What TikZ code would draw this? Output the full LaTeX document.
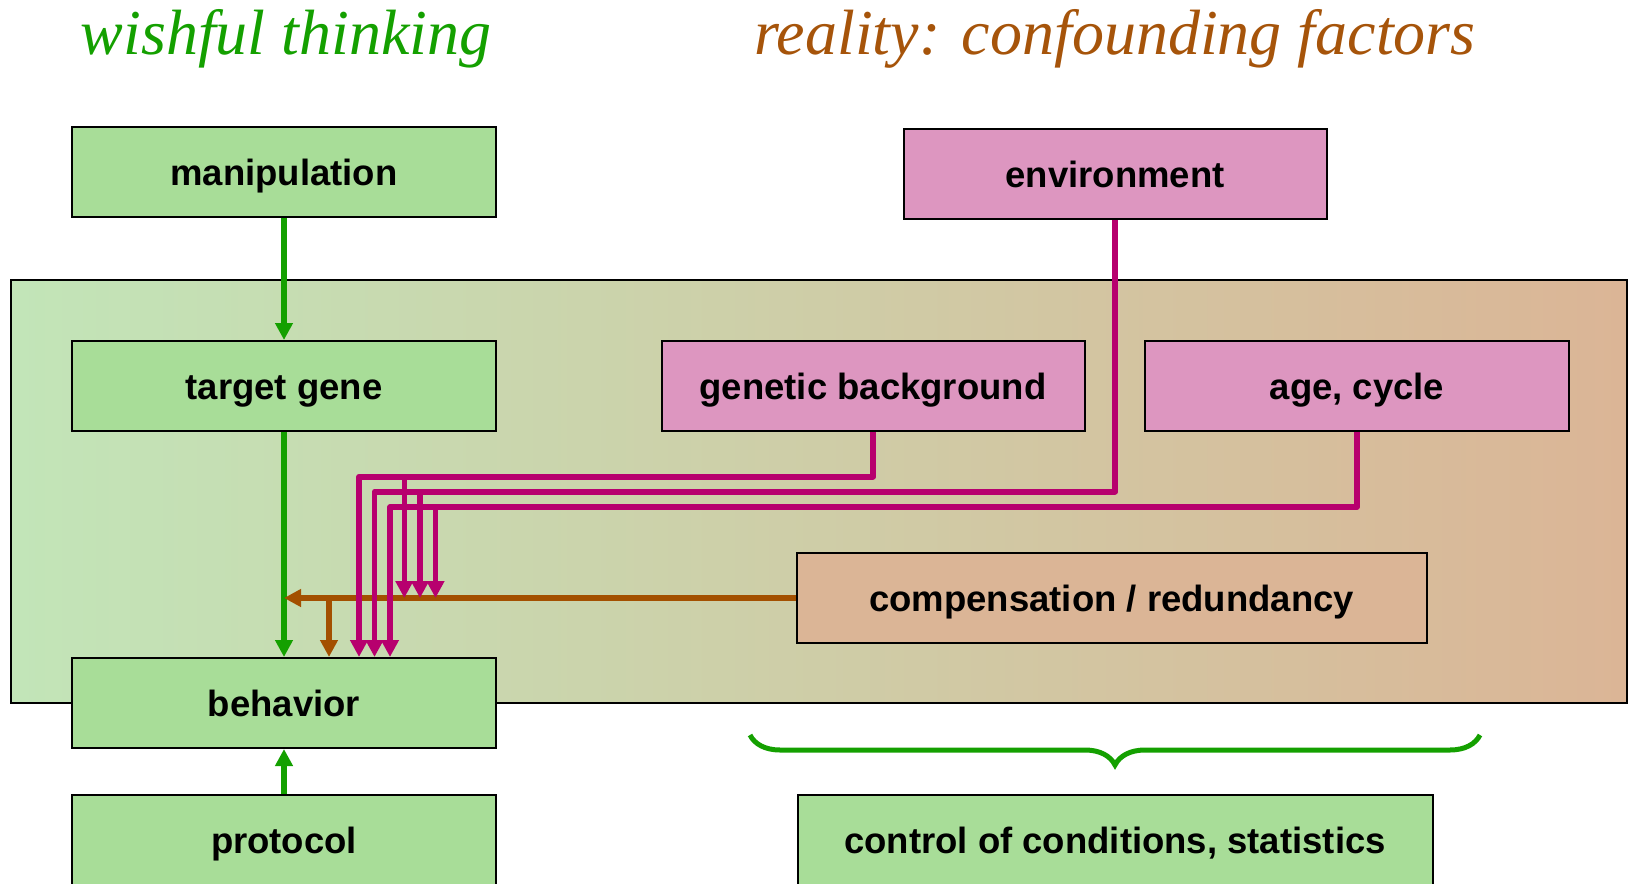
\documentclass[tikz,border=0pt]{standalone}
\usepackage{fontspec}
\setmainfont{Liberation Sans}
\newfontfamily\titlefont{Liberation Serif}
\usetikzlibrary{arrows.meta,decorations.pathreplacing}

\definecolor{boxgreen}{RGB}{168,221,152}
\definecolor{boxpink}{RGB}{221,150,192}
\definecolor{boxtan}{RGB}{219,181,150}
\definecolor{panelleft}{RGB}{194,229,184}
\definecolor{panelright}{RGB}{219,181,150}
\definecolor{wishgreen}{RGB}{20,160,0}
\definecolor{confmag}{RGB}{183,0,110}
\definecolor{confbrown}{RGB}{163,80,0}
\definecolor{titlebrown}{RGB}{166,84,10}

\begin{document}
\begin{tikzpicture}[x=1pt, y=-1pt,
    box/.style={draw=black, line width=2pt, minimum width=424pt, minimum height=90pt,
                inner sep=0pt, text height=31pt, text depth=4pt,
                font=\fontsize{36.5}{40}\selectfont\bfseries},
    wishbox/.style={box, fill=boxgreen},
    confbox/.style={box, fill=boxpink},
    titletext/.style={anchor=base, font=\titlefont\itshape\fontsize{64}{70}\selectfont},
    greenarrow/.style={draw=wishgreen, line width=6pt, -{Triangle[width=17pt,length=17pt]}},
    brownarrow/.style={draw=confbrown, line width=6pt, -{Triangle[width=17pt,length=17pt]}},
    magarrow/.style={draw=confmag, line width=5.6pt, line join=round, -{Triangle[width=17pt,length=17pt]}}]
    \useasboundingbox (0,0) rectangle (1629,883);

    % Titles
    \node[titletext, text=wishgreen] (wish) at (286,55) {wishful thinking};
    \node[titletext, text=titlebrown] (reality) at (1115,55) {reality: confounding factors};

    % Shaded panel
    \shadedraw[left color=panelleft, right color=panelright, line width=2pt]
        (11.4,279.5) rectangle (1627,703.3);

    % Boxes
    \node[wishbox] (manip) at (284,172) {manipulation};
    \node[confbox, minimum width=423pt] (env) at (1115,174) {environment};
    \node[wishbox] (target) at (284,386) {target gene};
    \node[confbox, minimum width=423pt] (genbg) at (873,386) {genetic background};
    \node[confbox] (age) at (1357,386) {age, cycle};
    \node[box, fill=boxtan, minimum width=630pt] (comp) at (1111.6,598) {compensation / redundancy};
    \node[wishbox] (behav) at (284,703) {behavior};
    \node[wishbox] (proto) at (284,840) {protocol};
    \node[wishbox, minimum width=635pt] (ctrl) at (1115,840) {control of conditions, statistics};

    % Green chain
    \draw[greenarrow] (manip.south) -- (target.north);
    \draw[greenarrow] (target.south) -- (behav.north);
    \draw[greenarrow] (proto.north) -- (behav.south);

    % Compensation feeds in
    \coordinate (cdrop) at (329,598);
    \draw[brownarrow] (comp.west) -- (comp.west -| target.south);
    \draw[brownarrow] (cdrop) -- (cdrop |- behav.north);

    % Confounders (source / y of run / x down to behavior / x of branch)
    \foreach \src/\yy/\xx/\xb in {genbg/476.7/359/404.3, env/491.7/374.5/420, age/507/390/435.5} {
        \coordinate (run-\src) at (\xx,\yy);
        \coordinate (fork-\src) at (\xb,\yy);
        \draw[magarrow] (\src.south) |- (run-\src) -- (run-\src |- behav.north);
        \draw[magarrow] (fork-\src) -- (fork-\src |- comp.west);
    }

    % Brace over the controls
    \coordinate (braceL) at (750,735);
    \coordinate (braceR) at (1480,735);
    \draw[wishgreen, line width=5pt, decorate, decoration={brace, mirror, amplitude=30pt}]
        (braceL) -- (braceR);
\end{tikzpicture}
\end{document}
